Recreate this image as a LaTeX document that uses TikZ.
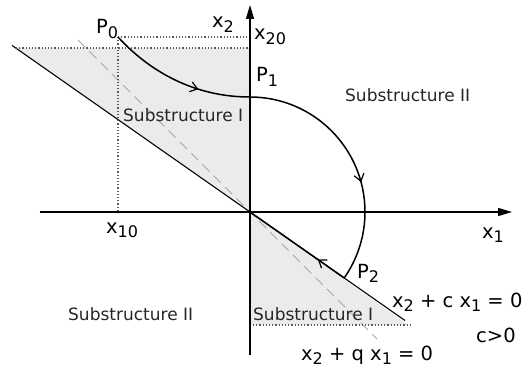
\documentclass[tikz,border=0pt]{standalone}
\usepackage{fontspec}
\setmainfont{DejaVu Sans}
\usetikzlibrary{arrows.meta, positioning, decorations.markings}
\tikzstyle{axis}=[line width=1.3pt,-{Triangle[length=14pt,width=8pt]}]
\tikzstyle{traj}=[line width=1.5pt]
\tikzstyle{guide}=[gray!70!black,dotted,line width=1.2pt]
\tikzstyle{every node}=[font=\fontsize{19.5}{21}\selectfont, inner sep=0pt]
\tikzstyle{region}=[font=\fontsize{17}{19}\selectfont, text=black!85]
\newcommand{\sbs}[1]{\raisebox{-.45ex}{\fontsize{16}{16}\selectfont #1}}
\tikzset{midarrow/.style={decoration={markings, mark=at position #1 with {\arrow{Straight Barb[length=7pt,width=10pt,line width=1.2pt]}}}, postaction={decorate}}}

\begin{document}
\begin{tikzpicture}[x=1pt,y=1pt]
    \useasboundingbox (-250,-160) rectangle (272,212);
    \coordinate (O) at (0,0);
    \coordinate (P0) at (-132,175);
    \coordinate (P1) at (0,115);
    \coordinate (P2) at (-35:115);
    % shaded parts
    \fill[gray!16] (-234,164) -- (0,164) -- (O) -- cycle;
    \fill[gray!16] (O) -- (0,-113) -- (158,-113) -- cycle;
    % switching lines
    \draw[gray!70, dash pattern=on 10pt off 6pt, line width=0.9pt] (-172,172) -- (127,-127);
    \draw[line width=1.1pt] (-238,166.6) -- (155,-108.5);
    % dotted guides
    \draw[guide] (-234,164) -- (0,164);
    \draw[guide] (3,-113) -- (160,-113);
    \draw[guide] (P0) -- (0,175);
    \draw[guide] (P0) -- (-132,0);
    % axes
    \draw[axis] (-210,0) -- (262,0);
    \draw[axis] (0,-143) -- (0,207);
    % trajectory
    \draw[traj, midarrow=0.65] (P0) .. controls (-100,140) and (-55,115) .. (P1);
    \draw[traj, midarrow=0.6] (P1) arc[start angle=90, end angle=-35, radius=115];
    \draw[traj, midarrow=0.28] (P2) -- (O);
    % labels
    \node[anchor=base west] (p0) at (-154,178) {P\sbs{0}};
    \node[anchor=base west] (p1) at (6,130) {P\sbs{1}};
    \node[anchor=base west] (p2) at (107,-66) {P\sbs{2}};
    \node[anchor=base west] (x2) at (-38,184) {x\sbs{2}};
    \node[anchor=base west] (x20) at (4,172) {x\sbs{20}};
    \node[anchor=base west] (x1) at (232,-26) {x\sbs{1}};
    \node[anchor=base west] (x10) at (-144,-21) {x\sbs{10}};
    \node[anchor=base west] (lineC) at (142,-95) {x\sbs{2} + c x\sbs{1} = 0};
    \node[anchor=base west] (cpos) at (226,-130) {c>0};
    \node[anchor=base west] (lineQ) at (51,-148) {x\sbs{2} + q x\sbs{1} = 0};
    \node[region, anchor=base west] (subIup) at (-127,90) {Substructure I};
    \node[region, anchor=base west] (subIIup) at (95,110) {Substructure II};
    \node[region, anchor=base west] (subIlow) at (3,-108) {Substructure I};
    \node[region, anchor=base west] (subIIlow) at (-182,-108) {Substructure II};
\end{tikzpicture}
\end{document}
